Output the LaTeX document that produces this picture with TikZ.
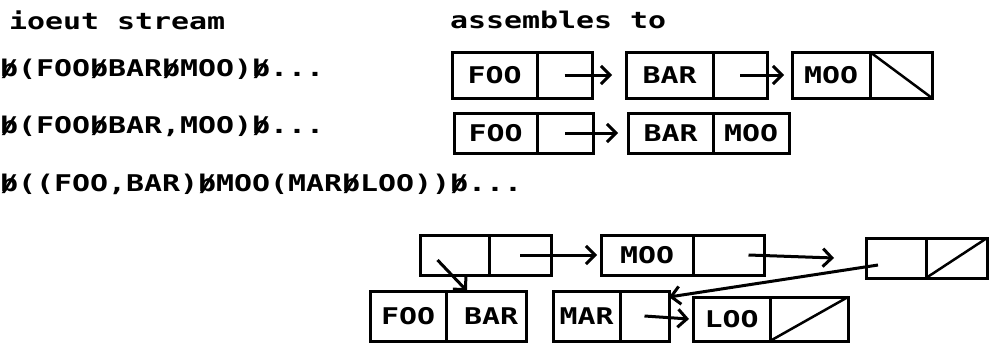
\documentclass[tikz,border=0pt]{standalone}
\usepackage{fontspec}
\newfontfamily\dotfont[FakeStretch=1.3]{DejaVu Sans Mono}
\usetikzlibrary{positioning, arrows.meta}

\newcommand{\blk}{\rlap{b}/}
\tikzset{
	txt/.style={anchor=west, inner sep=0pt, font=\dotfont\bfseries\fontsize{23}{28}\selectfont},
	cell/.style={draw, line width=3pt, inner sep=0pt, outer sep=0pt, minimum height=46pt, font=\dotfont\bfseries\fontsize{23}{28}\selectfont},
	ptr/.style={line width=3pt, -{Straight Barb[length=9pt,width=18pt,line width=3pt]}},
	nil/.style={line width=2.5pt},
}

\begin{document}
\begin{tikzpicture}[x=1pt, y=-1pt]
		\useasboundingbox (0,0) rectangle (992,343);
		% headings and input lines
		\node[txt] (hin) at (9,20) {ioeut stream};
		\node[txt] (hout) at (450,20) {assembles to};
		\node[txt] (in1) at (0,69) {\blk(FOO\blk BAR\blk MOO)\blk...};
		\node[txt] (in2) at (0,126) {\blk(FOO\blk BAR,MOO)\blk...};
		\node[txt] (in3) at (0,184) {\blk((FOO,BAR)\blk MOO(MAR\blk LOO))\blk...};
		% first list
		\node[cell, minimum width=85pt, anchor=west] (foo1) at (452,75) {FOO};
		\node[cell, minimum width=55pt, right=0pt of foo1] (foo1p) {};
		\node[cell, minimum width=87pt, anchor=west] (bar1) at (626,75) {BAR};
		\node[cell, minimum width=54pt, right=0pt of bar1] (bar1p) {};
		\node[cell, minimum width=78pt, anchor=west] (moo1) at (792,75) {MOO};
		\node[cell, minimum width=62pt, right=0pt of moo1] (moo1p) {};
		\draw[ptr] (foo1p.center) -- ([xshift=-14pt]bar1.west);
		\draw[ptr] (bar1p.center) -- ([xshift=-8pt]moo1.west);
		\draw[nil] (moo1p.north west) -- (moo1p.south east);
		% second list
		\node[cell, minimum width=83pt, minimum height=40pt, anchor=west] (foo2) at (454,133) {FOO};
		\node[cell, minimum width=56pt, minimum height=40pt, right=0pt of foo2] (foo2p) {};
		\node[cell, minimum width=85pt, minimum height=40pt, anchor=west] (bar2) at (628,133) {BAR};
		\node[cell, minimum width=76pt, minimum height=40pt, right=0pt of bar2] (moo2) {MOO};
		\draw[ptr] (foo2p.center) -- ([xshift=-10pt]bar2.west);
		% third list, top row
		\node[cell, minimum width=69pt, minimum height=40pt, anchor=west] (sub) at (420,255) {};
		\node[cell, minimum width=62pt, minimum height=40pt, right=0pt of sub] (subp) {};
		\node[cell, minimum width=92pt, minimum height=40pt, anchor=west] (moo3) at (601,255) {MOO};
		\node[cell, minimum width=71pt, minimum height=40pt, right=0pt of moo3] (moo3p) {};
		\node[cell, minimum width=60pt, minimum height=40pt, anchor=west] (sub2) at (866,258) {};
		\node[cell, minimum width=61pt, minimum height=40pt, right=0pt of sub2] (sub2p) {};
		\draw[nil] (sub2p.south west) -- (sub2p.north east);
		% third list, bottom row
		\node[cell, minimum width=76pt, minimum height=50pt, anchor=west] (foo3) at (370,316) {FOO};
		\node[cell, minimum width=80pt, minimum height=50pt, right=0pt of foo3] (bar3) {\hspace{10pt}BAR};
		\node[cell, minimum width=67pt, minimum height=50pt, anchor=west] (mar) at (553,316) {MAR};
		\node[cell, minimum width=49pt, minimum height=50pt, right=0pt of mar] (marp) {};
		\node[cell, minimum width=77pt, minimum height=44pt, anchor=west] (loo) at (693,319) {LOO};
		\node[cell, minimum width=78pt, minimum height=44pt, right=0pt of loo] (loop) {};
		\draw[nil] (loop.south west) -- (loop.north east);
		\draw[ptr] ([shift={(-17,5)}]sub.center) -- ([xshift=21pt]bar3.north west);
		\draw[ptr] (subp.center) -- ([xshift=-4pt]moo3.west);
		\draw[ptr] ([xshift=20pt]moo3p.center) -- ([xshift=-32pt]sub2.west);
		\draw[ptr] ([shift={(-18,7)}]sub2.center) -- ([yshift=-6pt]marp.north east);
		\draw[ptr] (marp.center) -- ([xshift=-4pt]loo.west);
	\end{tikzpicture}
\end{document}
